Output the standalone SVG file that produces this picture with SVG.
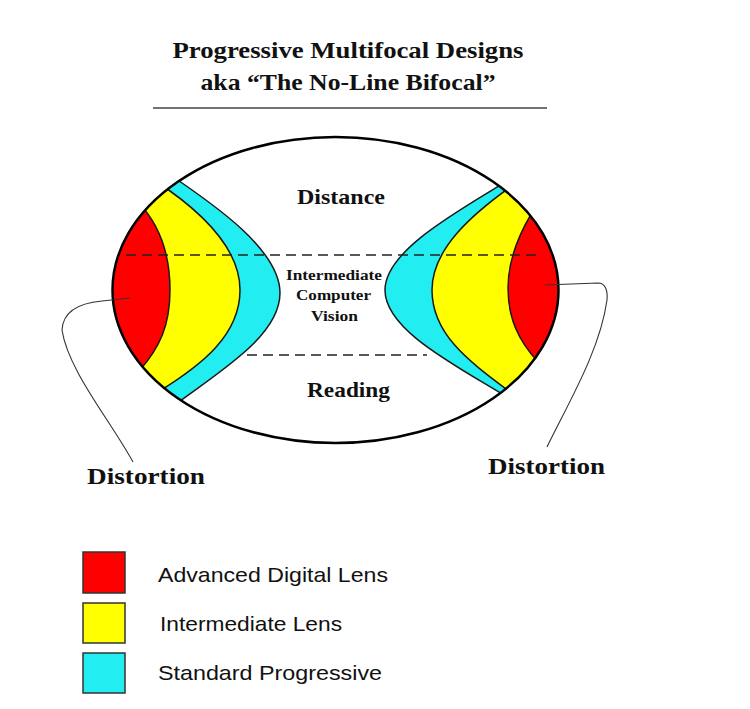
<svg xmlns="http://www.w3.org/2000/svg" width="750" height="709" viewBox="0 0 750 709">
<style>
.serif{font-family:"Liberation Serif","Times New Roman",serif;font-weight:bold;fill:#111;}
.sans{font-family:"Liberation Sans",Arial,sans-serif;fill:#111;}
.edge{fill:none;stroke:#1a1a1a;stroke-width:1.5;}
.dash{fill:none;stroke:#222;stroke-width:1.4;stroke-dasharray:10 6;}
.lead{fill:none;stroke:#333;stroke-width:1.1;}
.red{fill:#ff0000;}
.yel{fill:#ffff00;}
.cyan{fill:#22eef2;}
.key{stroke:#333;stroke-width:1.5;}
</style>
<defs>
<clipPath id="lensClip"><ellipse cx="335.5" cy="290" rx="223" ry="153"/></clipPath>
</defs>
<rect width="750" height="709" fill="#fff"/>

<g id="title">
<text class="serif" x="348" y="58" font-size="24" text-anchor="middle" textLength="351" lengthAdjust="spacingAndGlyphs">Progressive Multifocal Designs</text>
<text class="serif" x="348" y="90" font-size="24" text-anchor="middle" textLength="295" lengthAdjust="spacingAndGlyphs">aka “The No-Line Bifocal”</text>
<line x1="153" y1="108" x2="547" y2="108" stroke="#444" stroke-width="1.5"/>
</g>

<g id="lens">
<ellipse cx="335.5" cy="290" rx="223" ry="153" fill="#fff"/>
<g clip-path="url(#lensClip)">
<path class="cyan" d="M 166 172 C 215 205, 280 250, 280 293 C 280 335, 222 370, 176 404 L 100 404 L 100 172 Z"/>
<path class="yel" d="M 154 180 C 200 210, 240 248, 240 290 C 240 335, 202 365, 158 392 L 100 392 L 100 180 Z"/>
<path class="red" d="M 138 202 C 160 225, 170 255, 170 290 C 170 325, 160 347, 140 370 L 100 370 L 100 202 Z"/>
<path class="cyan" d="M 512 178 C 460 210, 385 250, 385 290 C 385 330, 455 365, 507 397 L 580 397 L 580 178 Z"/>
<path class="yel" d="M 516 183 C 470 215, 432 250, 432 290 C 432 335, 470 362, 510 392 L 580 392 L 580 183 Z"/>
<path class="red" d="M 537 205 C 520 230, 508 260, 508 288 C 508 318, 518 340, 538 362 L 580 362 L 580 205 Z"/>
<path class="edge" d="M 166 172 C 215 205, 280 250, 280 293 C 280 335, 222 370, 176 404"/>
<path class="edge" d="M 154 180 C 200 210, 240 248, 240 290 C 240 335, 202 365, 158 392"/>
<path class="edge" d="M 138 202 C 160 225, 170 255, 170 290 C 170 325, 160 347, 140 370"/>
<path class="edge" d="M 512 178 C 460 210, 385 250, 385 290 C 385 330, 455 365, 507 397"/>
<path class="edge" d="M 516 183 C 470 215, 432 250, 432 290 C 432 335, 470 362, 510 392"/>
<path class="edge" d="M 537 205 C 520 230, 508 260, 508 288 C 508 318, 518 340, 538 362"/>
</g>
<line class="dash" x1="126" y1="255" x2="542" y2="255"/>
<line class="dash" x1="247" y1="355" x2="427" y2="355"/>
<ellipse cx="335.5" cy="290" rx="223" ry="153" fill="none" stroke="#000" stroke-width="2.5"/>
</g>

<g id="zone-distance"><text class="serif" x="341" y="204" font-size="21" text-anchor="middle" textLength="88" lengthAdjust="spacingAndGlyphs">Distance</text></g>
<g id="zone-intermediate">
<text class="serif" x="334" y="280" font-size="15" text-anchor="middle" textLength="96" lengthAdjust="spacingAndGlyphs">Intermediate</text>
<text class="serif" x="333.5" y="300" font-size="15" text-anchor="middle" textLength="75" lengthAdjust="spacingAndGlyphs">Computer</text>
<text class="serif" x="334.5" y="321" font-size="15" text-anchor="middle" textLength="47" lengthAdjust="spacingAndGlyphs">Vision</text>
</g>
<g id="zone-reading"><text class="serif" x="348.5" y="397" font-size="21" text-anchor="middle" textLength="83" lengthAdjust="spacingAndGlyphs">Reading</text></g>

<g id="distortion-left"><text class="serif" x="146" y="484" font-size="23" text-anchor="middle" textLength="118" lengthAdjust="spacingAndGlyphs">Distortion</text></g>
<g id="distortion-right"><text class="serif" x="546.5" y="474" font-size="23" text-anchor="middle" textLength="117" lengthAdjust="spacingAndGlyphs">Distortion</text></g>

<g id="connectors">
<path class="lead" d="M 130 298 L 102 301 C 80 303, 63 310, 62 330 C 68 370, 110 420, 133 462"/>
<path class="lead" d="M 545 285 L 598 283 C 605 283, 608 290, 607 300 C 600 350, 570 400, 547 447"/>
</g>

<g id="legend-advanced">
<rect class="red key" x="83" y="552" width="42" height="41"/>
<text class="sans" x="158" y="582" font-size="21" textLength="230" lengthAdjust="spacingAndGlyphs">Advanced Digital Lens</text>
</g>
<g id="legend-intermediate">
<rect class="yel key" x="83" y="603" width="42" height="40"/>
<text class="sans" x="160" y="631" font-size="21" textLength="182" lengthAdjust="spacingAndGlyphs">Intermediate Lens</text>
</g>
<g id="legend-standard">
<rect class="cyan key" x="83" y="653" width="42" height="40"/>
<text class="sans" x="158" y="680" font-size="21" textLength="224" lengthAdjust="spacingAndGlyphs">Standard Progressive</text>
</g>
</svg>
